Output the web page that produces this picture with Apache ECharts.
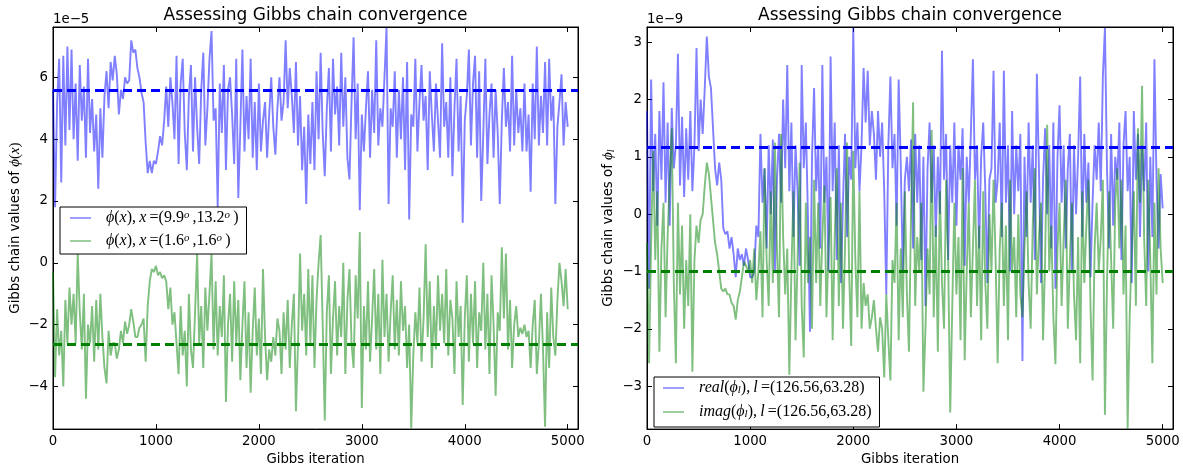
<!DOCTYPE html>
<html><head><meta charset="utf-8">
<script src="https://cdn.jsdelivr.net/npm/echarts@6/dist/echarts.min.js"></script>
<style>html,body{margin:0;padding:0;background:#fff}#c{width:1183px;height:471px}</style>
</head><body><div id="c"></div>
<script>
// Gibbs iteration spacing between the sampled values below
const ITER_STEP = 20;

// Left panel (values in units of 1e-5)
const leftBlue = [
 5.6, 1.8, 5.2, 6.6, 2.6, 6.7, 3.8, 7.0, 4.3, 6.9,
 4.0, 5.8, 3.3, 6.4, 4.6, 5.7, 3.4, 6.6, 4.2, 5.3,
 3.6, 4.8, 2.4, 5.0, 3.4, 5.4, 6.2, 5.0, 6.5, 5.9,
 6.7, 6.1, 4.8, 5.6, 5.3, 6.0, 5.8, 5.9, 7.2, 6.8,
 6.9, 6.3, 6.0, 5.5, 5.2, 3.9, 2.9, 3.3, 2.9, 3.3,
 3.2, 3.6, 4.1, 3.8, 4.6, 5.7, 4.4, 6.0, 5.2, 4.0,
 6.7, 3.2, 5.8, 6.6, 4.2, 3.0, 5.4, 6.4, 3.6, 6.0,
 4.4, 3.2, 5.6, 6.8, 3.8, 5.0, 6.6, 7.5, 4.6, 5.0,
 1.8, 5.8, 4.2, 6.4, 3.0, 5.6, 6.0, 4.8, 3.2, 6.6,
 2.1, 4.4, 6.9, 3.6, 5.4, 4.0, 6.6, 3.4, 5.2, 3.0,
 5.8, 3.6, 4.6, 5.2, 3.4, 4.8, 6.0, 4.4, 3.5, 5.0,
 6.0, 4.6, 5.2, 7.2, 5.0, 6.3, 5.4, 4.2, 6.5, 3.8,
 5.4, 3.0, 4.4, 1.9, 4.8, 3.2, 5.2, 3.0, 6.2, 4.0,
 6.8, 4.2, 2.8, 5.0, 6.3, 3.6, 6.6, 4.8, 5.7, 3.8,
 6.8, 4.4, 6.0, 3.4, 2.7, 5.2, 7.3, 4.0, 5.8, 1.7,
 4.8, 3.6, 5.0, 6.2, 3.4, 5.6, 4.2, 7.2, 3.8, 5.0,
 4.4, 6.0, 7.6, 1.9, 5.0, 4.4, 6.2, 3.4, 5.6, 4.0,
 6.0, 3.0, 6.5, 1.4, 4.8, 4.4, 6.6, 3.6, 5.2, 6.4,
 4.6, 5.4, 3.0, 6.2, 4.8, 3.6, 5.8, 4.6, 3.4, 7.1,
 4.4, 5.2, 3.4, 6.0, 2.8, 5.0, 6.6, 3.6, 5.4, 1.3,
 4.6, 5.4, 6.9, 3.8, 5.8, 6.7, 3.4, 6.2, 2.0, 4.2,
 6.6, 3.2, 4.8, 5.8, 3.4, 5.6, 4.2, 1.9, 4.6, 6.3,
 4.4, 5.2, 3.6, 6.7, 3.8, 5.6, 4.2, 5.0, 3.6, 5.8,
 3.6, 4.8, 2.3, 5.8, 4.0, 7.0, 3.8, 5.4, 4.2, 6.5,
 3.8, 6.6, 4.6, 5.4, 1.9, 4.4, 5.2, 6.1, 3.8, 5.2,
 4.4
];
const leftGreen = [
 -0.3, -3.7, -1.5, -3.0, -2.2, -4.0, -1.2, -2.6, -0.8, -2.0,
 -1.0, -2.6, 0.3, -1.6, -2.8, -1.0, -4.4, -2.0, -2.6, -1.4,
 -3.2, -1.2, -2.8, -1.0, -2.4, -3.4, -3.9, -2.2, -3.0, -2.6,
 -2.6, -3.1, -2.8, -2.2, -2.6, -1.9, -2.3, -2.0, -1.5, -1.9,
 -2.4, -2.4, -2.1, -2.0, -1.8, -3.2, -1.4, -0.6, -0.2, -0.3,
 -0.1, -0.4, -0.3, -0.5, -0.4, -0.6, -1.5, -0.8, -2.0, -1.6,
 -2.6, -3.6, -1.4, -3.0, -2.2, -4.0, -1.0, -2.8, -3.4, -1.6,
 0.3, -2.6, -1.4, -3.4, -0.8, -2.2, -1.0, 0.3, -2.8, -0.6,
 -3.0, -1.4, -2.4, -0.4, -4.5, -2.0, -1.0, -3.2, -0.6, -2.6,
 -1.2, -3.8, -2.0, -0.6, -3.4, -1.6, -4.2, -2.2, -0.8, -3.0,
 -1.8, -3.6, -0.2, -2.4, -3.8, -2.8, -3.2, -2.4, -3.0, -1.8,
 -2.2, -3.6, -1.6, -2.8, -1.2, -3.4, -2.0, -1.0, -4.8, -2.6,
 0.3, -2.2, -1.0, -3.0, -0.2, -2.6, -0.4, -3.4, -1.2, 0.0,
 0.9, -2.0, -5.1, -1.6, -0.4, -3.6, -1.8, -0.6, -3.0, -1.4,
 -2.4, 0.0, -3.6, -1.2, -0.2, -2.6, -3.4, -0.4, -1.8, 1.0,
 -4.7, -1.4, -2.8, -0.6, -3.2, -1.8, -0.2, -2.8, -1.0, -3.6,
 0.1, -2.4, -1.0, -3.2, -1.6, -0.4, -2.8, -1.2, -3.0, -0.6,
 -2.2, -1.4, -3.4, -2.0, -5.35, -3.0, -1.6, -2.6, -0.8, -3.2,
 -1.8, 0.6, -2.4, -0.6, -3.4, -1.4, -2.8, -0.4, -2.2, -1.0,
 -2.6, -0.2, -3.0, -1.2, -1.8, -3.6, -0.6, -2.4, -1.4, -4.6,
 -1.8, -0.4, -3.2, -1.0, -2.6, -0.6, -3.4, -1.6, -2.2, 0.0,
 -2.8, -1.0, -3.6, -0.4, -2.0, -4.3, -1.6, -2.2, 0.5, -1.8,
 0.3, -2.8, -1.2, -3.4, -2.0, -1.4, -2.4, -2.1, -2.3, -2.0,
 -2.4, -2.2, -3.4, -2.0, -1.2, -3.6, -2.6, -1.0, -2.8, -5.3,
 -1.6, -3.4, -0.8, -2.4, -3.0, -1.2, 0.0, -0.6, -1.4, -0.2,
 -1.5
];

// Right panel (values in units of 1e-9)
const rightBlue = [
 1.8, -1.3, 2.35, 0.4, 1.4, -0.2, 1.8, 0.6, 2.3, 0.2,
 1.6, -0.2, 1.85, 0.8, 1.2, 2.8, 0.5, 1.7, 0.3, 1.5,
 0.6, 1.8, 0.4, 1.2, 2.9, 1.1, 2.0, 1.4, 2.2, 3.1,
 2.4, 2.2, 1.5, 0.8, 0.5, 0.9, 0.6, -0.25, -0.35, -0.3,
 -0.6, -0.4, -0.7, -1.1, -0.6, -0.8, -0.7, -0.9, -0.6, -0.8,
 -1.1, -1.1, -1.0, -0.2, -0.4, 1.4, 0.2, 0.8, -0.6, 1.2,
 0.0, 1.3, -1.0, 0.6, 1.4, 0.2, 2.0, 0.8, 2.6, 0.4,
 1.6, -0.4, 1.2, 0.4, -0.9, 2.6, 0.8, 1.6, 0.0, -2.05,
 1.0, 2.2, 0.4, 1.2, -0.6, 2.6, 0.2, 1.0, -1.0, 2.75,
 0.4, 1.6, -0.8, 1.2, -1.2, 0.2, 1.4, -0.4, 1.0, 0.6,
 3.25, 0.8, 1.6, 0.4, 1.2, 2.55, 1.6, 2.5, 1.2, 1.8,
 1.4, 0.6, 1.8, 1.0, 1.6, 0.4, -1.4, 1.2, 2.4, 0.8,
 1.4, -0.2, 2.35, 0.9, -1.0, 0.6, 1.0, 0.4, 1.3, -0.6,
 1.4, 0.2, 1.2, -0.8, 1.0, -1.6, 0.8, 1.6, 0.2, 1.2,
 -0.4, 1.0, 0.0, 2.85, 0.6, 1.4, -0.8, 1.2, 0.2, 1.6,
 -0.2, 1.2, 0.6, 1.5, -0.9, 1.0, 0.2, 1.4, 2.7, 0.6,
 1.2, -0.6, 1.0, 1.6, 0.4, -1.2, 0.6, 0.8, 2.5, 0.2,
 0.6, 1.6, -0.4, 2.5, 0.2, 1.2, -1.0, 1.8, 0.0, 1.2,
 0.4, 1.4, -2.56, 1.0, -0.4, 1.6, 0.2, 1.2, -0.8, 2.45,
 0.8, -1.2, 0.6, 1.5, 0.0, 1.2, -0.6, 1.6, -1.3, 1.0,
 1.9, 0.2, 1.2, -0.6, 0.8, 1.4, -1.0, 1.2, 0.0, 1.0,
 2.4, -0.4, 1.4, 0.2, 0.9, -1.1, 0.2, 1.2, 0.6, 1.6,
 0.4, 2.4, 3.25, 0.8, -0.6, 1.4, -0.2, 1.0, 0.6, 1.6,
 -0.8, 1.2, 1.8, 0.4, 1.0, -1.2, 1.8, 0.6, 1.4, -0.4,
 1.2, 0.4, 1.6, -1.0, 1.0, -0.4, 2.7, 0.6, -0.6, 0.7,
 0.1
];
const rightGreen = [
 -0.5, -2.6, -0.5, 1.1, -0.8, 0.4, -2.4, -0.6, 0.2, -1.8,
 -0.4, 0.6, 1.5, -1.2, -2.6, 0.2, -1.4, -0.2, -2.0, -0.8,
 -1.6, 0.0, -2.75, -0.8, -0.2, -0.5, -0.1, 0.0, 0.5, 0.9,
 0.7, 0.3, -0.1, -0.5, -0.7, -1.0, -1.3, -1.35, -1.3, -1.4,
 -1.4, -1.55, -1.6, -1.84, -1.5, -1.35, -1.1, -0.83, -0.9, -1.0,
 -0.8, -1.2, -0.6, -1.5, -1.0, -0.3, -1.8, 0.8, -0.8, -1.6,
 0.4, -1.2, 1.25, -0.6, -1.8, 1.4, -0.4, -1.4, -0.6, -2.8,
 -1.0, 0.4, -2.2, -0.8, 0.9, -1.6, -2.5, 0.2, -1.2, -0.4,
 -2.0, 0.6, -1.2, 0.2, -1.6, -0.4, 0.5, -1.8, -0.6, 0.3,
 -2.2, -0.4, 0.8, -1.6, 0.2, -2.0, -0.6, 1.25, -1.0, -2.3,
 1.1, -0.8, -1.8, 0.4, -2.0, -1.2, -1.6, -1.4, -2.0, -1.8,
 -1.5, -2.0, -2.4, -1.8, -2.0, -2.85, -1.4, -2.2, -2.9, -0.8,
 -1.2, 0.2, -2.2, -0.6, -1.8, 0.4, -1.4, -2.4, 0.0, 1.95,
 -1.6, -0.4, -1.0, 0.2, -3.1, -2.0, -0.6, -1.4, 1.47, -1.8,
 -0.2, -2.4, 0.4, -1.2, -2.0, 0.6, -0.8, -3.46, -1.6, 0.2,
 -1.4, -0.4, -2.2, 0.8, -2.55, -1.0, 0.2, -1.8, -0.6, 0.6,
 -1.6, -0.2, -2.2, 0.4, -1.2, -2.0, 0.0, -1.0, 0.6, -0.8,
 -2.6, -0.6, 0.2, -1.6, -0.2, -2.2, 0.6, -1.0, -0.4, -1.8,
 0.0, -1.4, -1.8, -0.6, 0.4, -1.2, -2.0, -0.2, 0.8, -1.4,
 -0.4, 0.2, -2.2, -0.8, 1.56, -1.0, -0.2, -1.8, -2.62, -0.6,
 0.2, -1.6, -0.4, 0.6, -2.0, -0.8, 0.2, -1.4, -2.2, -0.4,
 -2.6, 0.4, -1.2, -0.2, 0.6, -1.6, -2.9, -0.6, 0.2, -1.0,
 -0.4, 0.6, -3.5, -1.2, 0.4, -0.8, -2.0, 0.2, 0.8, -0.6,
 0.6, -1.4, -0.2, -3.75, -1.8, -0.6, 0.4, -1.6, 1.5, 0.2,
 2.24, -0.4, -1.6, 0.6, -0.8, -2.6, 0.2, -1.4, 0.8, -0.6,
 -1.2
];

// Reference (dashed) levels
const leftBlueRef = 5.57, leftGreenRef = -2.63;
const rightBlueRef = 1.17, rightGreenRef = -1.0;

// Tick values
const xTicks = [0, 1000, 2000, 3000, 4000, 5000];
const leftYTicks = [-4, -2, 0, 2, 4, 6];
const rightYTicks = [-3, -2, -1, 0, 1, 2, 3];

// Axis ranges
const xRange = [0, 5100];
const leftYRange = [-5.38, 7.63];
const rightYRange = [-3.75, 3.265];

// Texts
const titleText = 'Assessing Gibbs chain convergence';
const xLabel = 'Gibbs iteration';
const leftOffset = '1e\u22125', rightOffset = '1e\u22129';
const names = ['phiA', 'phiB', 'realPhi', 'imagPhi'];
const legendRich = {
  phiA: '{m|\u03d5}{r|(}{m|x}{r|),\u2009}{m|x}{r|\u2009=(9.9}{s|o}{r|\u2009,13.2}{s|o}{r|\u2009)}',
  phiB: '{m|\u03d5}{r|(}{m|x}{r|),\u2009}{m|x}{r|\u2009=(1.6}{s|o}{r|\u2009,1.6}{s|o}{r|\u2009)}',
  realPhi: '{m|real}{r|(}{m|\u03d5}{b|l}{r|),\u2009}{m|l}{r|\u2009=(126.56,63.28)}',
  imagPhi: '{m|imag}{r|(}{m|\u03d5}{b|l}{r|),\u2009}{m|l}{r|\u2009=(126.56,63.28)}'
};

const SANS = 'DejaVu Sans';
const SERIF = 'Liberation Serif, DejaVu Serif, serif';
const BLUE = 'rgba(0,0,255,0.5)', GREEN = 'rgba(0,128,0,0.5)';
function mathRich(sz) {
  return {
    t: {fontFamily: SANS, fontSize: 13.3, color: '#000'},
    m: {fontFamily: SERIF, fontStyle: 'italic', fontSize: sz, color: '#000'},
    r: {fontFamily: SERIF, fontSize: sz, color: '#000'},
    s: {fontFamily: SERIF, fontStyle: 'italic', fontSize: sz * 0.68, color: '#000', verticalAlign: 'top'},
    b: {fontFamily: SERIF, fontStyle: 'italic', fontSize: sz * 0.68, color: '#000', verticalAlign: 'bottom'}
  };
}

const fmtNum = v => String(v).replace('-', '\u2212');
const toPairs = arr => arr.map((v, i) => [i * ITER_STEP, v]);

const grids = [
  {left: 53, top: 27, width: 525, height: 406},
  {left: 647, top: 27, width: 526, height: 406}
].map(g => Object.assign(g, {show: true, borderColor: '#000', borderWidth: 1, backgroundColor: '#fff'}));

function xAxes(gi) {
  const base = {
    gridIndex: gi, type: 'value', min: xRange[0], max: xRange[1],
    axisLine: {show: true, onZero: false, lineStyle: {color: '#000', width: 1}},
    axisTick: {show: true, inside: true, length: 5, lineStyle: {color: '#000'}, customValues: xTicks},
    splitLine: {show: false}
  };
  return [
    Object.assign({}, base, {
      position: 'bottom',
      axisLabel: {show: true, customValues: xTicks, formatter: fmtNum, color: '#000', fontFamily: SANS, fontSize: 13.3, margin: 6},
      name: xLabel, nameLocation: 'middle', nameGap: 23,
      nameTextStyle: {fontFamily: SANS, fontSize: 13.3, color: '#000'}
    }),
    Object.assign({}, base, {position: 'top', axisLabel: {show: false}})
  ];
}
function yAxes(gi, range, ticks, nameRich, gap) {
  const base = {
    gridIndex: gi, type: 'value', min: range[0], max: range[1],
    axisLine: {show: true, onZero: false, lineStyle: {color: '#000', width: 1}},
    axisTick: {show: true, inside: true, length: 5, lineStyle: {color: '#000'}, customValues: ticks},
    splitLine: {show: false}
  };
  return [
    Object.assign({}, base, {
      position: 'left',
      axisLabel: {show: true, customValues: ticks, formatter: fmtNum, color: '#000', fontFamily: SANS, fontSize: 13.3, margin: 5},
      name: nameRich, nameLocation: 'middle', nameGap: gap, nameRotate: 90,
      nameTextStyle: {rich: mathRich(15)}
    }),
    Object.assign({}, base, {position: 'right', axisLabel: {show: false}})
  ];
}

function lineSeries(name, arr, xi, yi, color) {
  return {
    name: name, type: 'line', xAxisIndex: xi, yAxisIndex: yi,
    data: toPairs(arr), showSymbol: false, symbol: 'none', animation: false,
    color: color, lineStyle: {color: color, width: 1.9}, z: 2
  };
}
function refSeries(xi, yi, refs) {
  return {
    type: 'line', xAxisIndex: xi, yAxisIndex: yi, data: [], z: 5, animation: false,
    markLine: {
      silent: true, symbol: 'none', animation: false, label: {show: false},
      data: refs.map(r => ({yAxis: r.v, lineStyle: {color: r.c, type: [9, 5], width: 3, opacity: 1}}))
    }
  };
}

const legendBase = {
  orient: 'vertical', icon: 'rect', itemWidth: 21, itemHeight: 1.5,
  backgroundColor: '#fff', borderColor: '#000', borderWidth: 1, borderRadius: 0,
  itemGap: 7, selectedMode: false,
  formatter: n => legendRich[n],
  textStyle: {rich: mathRich(16), padding: [0, 0, 0, 10]}
};

const option = {
  animation: false,
  backgroundColor: '#fff',
  grid: grids,
  xAxis: [...xAxes(0), ...xAxes(1)],
  yAxis: [
    ...yAxes(0, leftYRange, leftYTicks, '{t|Gibbs chain values of }{m|\u03d5}{r|(}{m|x}{r|)}', 30),
    ...yAxes(1, rightYRange, rightYTicks, '{t|Gibbs chain values of }{m|\u03d5}{b|l}', 31)
  ],
  legend: [
    Object.assign({}, legendBase, {left: 60, top: 207, padding: [3, 8, 5, 10], data: [names[0], names[1]]}),
    Object.assign({}, legendBase, {left: 654, top: 377, padding: [3, 8, 7, 9], itemGap: 8, data: [names[2], names[3]]})
  ],
  series: [
    lineSeries(names[0], leftBlue, 0, 0, BLUE),
    lineSeries(names[1], leftGreen, 0, 0, GREEN),
    refSeries(0, 0, [{v: leftBlueRef, c: '#0000ff'}, {v: leftGreenRef, c: '#008000'}]),
    lineSeries(names[2], rightBlue, 2, 2, BLUE),
    lineSeries(names[3], rightGreen, 2, 2, GREEN),
    refSeries(2, 2, [{v: rightBlueRef, c: '#0000ff'}, {v: rightGreenRef, c: '#008000'}])
  ],
  graphic: [
    {type: 'text', x: 315.5, y: 15.5, style: {text: titleText, fontFamily: SANS, fontSize: 17, fill: '#000', textAlign: 'center', textVerticalAlign: 'middle'}},
    {type: 'text', x: 910, y: 15.5, style: {text: titleText, fontFamily: SANS, fontSize: 17, fill: '#000', textAlign: 'center', textVerticalAlign: 'middle'}},
    {type: 'text', x: 53, y: 19.5, style: {text: leftOffset, fontFamily: SANS, fontSize: 13.3, fill: '#000', textAlign: 'left', textVerticalAlign: 'middle'}},
    {type: 'text', x: 647, y: 19.5, style: {text: rightOffset, fontFamily: SANS, fontSize: 13.3, fill: '#000', textAlign: 'left', textVerticalAlign: 'middle'}}
  ]
};

const chart = echarts.init(document.getElementById('c'), null, {renderer: 'canvas'});
chart.setOption(option);
</script>
</body></html>
